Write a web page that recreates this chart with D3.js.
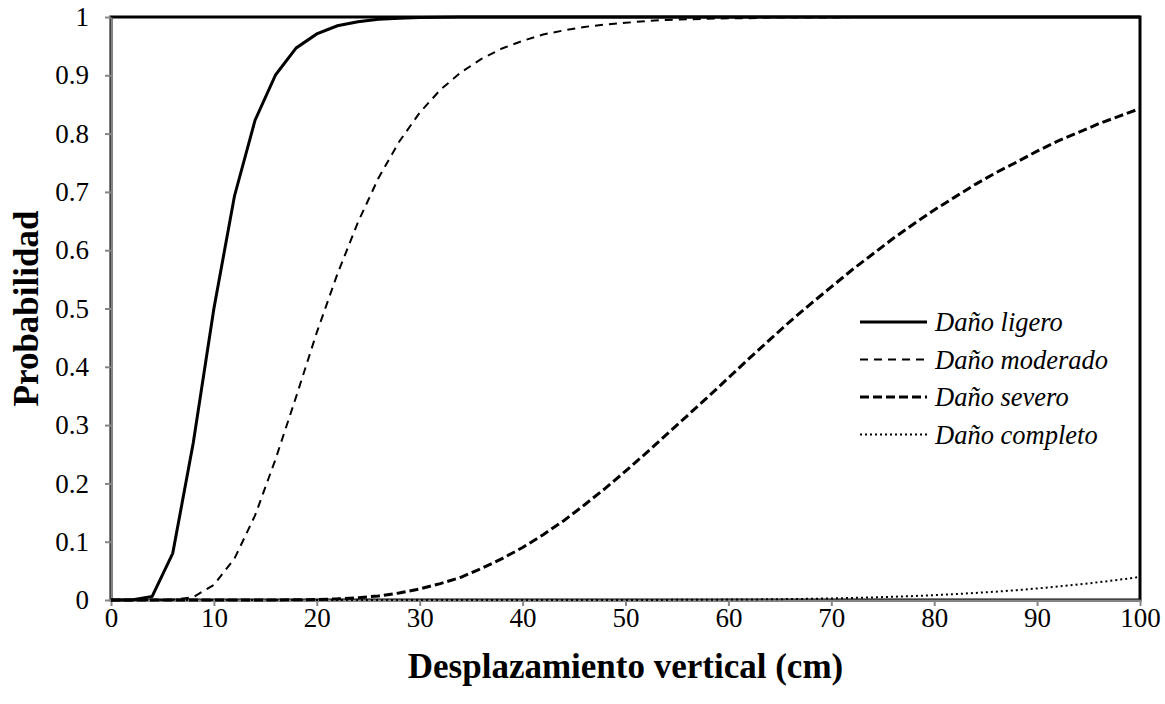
<!DOCTYPE html>
<html>
<head>
<meta charset="utf-8">
<script src="https://cdn.jsdelivr.net/npm/d3@7"></script>
<style>
  body { margin: 0; background: #fff; }
  text { font-family: "Liberation Serif", "Times New Roman", serif; fill: #000; }
  .tick text { font-size: 27px; }
  .axis .domain { stroke: #868686; stroke-width: 2; }
  .axis .tick line { stroke: #868686; stroke-width: 2; }
</style>
</head>
<body>
<svg width="1165" height="704"></svg>
<script>
// desplazamiento vertical (cm), cada 2 cm
var desplazamiento = d3.range(0, 101, 2);

var ligero = [0, 0, 0.006, 0.080, 0.270, 0.500, 0.693, 0.823, 0.901, 0.947,
  0.971, 0.985, 0.992, 0.996, 0.998, 0.999, 0.9995, 1, 1, 1,
  1, 1, 1, 1, 1, 1, 1, 1, 1, 1,
  1, 1, 1, 1, 1, 1, 1, 1, 1, 1,
  1, 1, 1, 1, 1, 1, 1, 1, 1, 1, 1];

var moderado = [0, 0, 0, 0.0005, 0.005, 0.026, 0.071, 0.145, 0.242, 0.349,
  0.459, 0.559, 0.648, 0.724, 0.786, 0.836, 0.875, 0.905, 0.928, 0.946,
  0.959, 0.970, 0.977, 0.983, 0.987, 0.990, 0.993, 0.995, 0.996, 0.997,
  0.998, 0.998, 0.999, 0.999, 0.999, 0.999, 1, 1, 1, 1,
  1, 1, 1, 1, 1, 1, 1, 1, 1, 1, 1];

var severo = [0, 0, 0, 0, 0, 0, 0, 0, 0.0001, 0.0003,
  0.0009, 0.002, 0.004, 0.007, 0.012, 0.019, 0.028, 0.039, 0.054, 0.071,
  0.090, 0.112, 0.136, 0.163, 0.191, 0.221, 0.252, 0.284, 0.316, 0.348,
  0.381, 0.414, 0.446, 0.478, 0.508, 0.537, 0.566, 0.593, 0.620, 0.645,
  0.669, 0.691, 0.713, 0.733, 0.751, 0.770, 0.787, 0.802, 0.817, 0.830, 0.843];

var completo = [0, 0, 0, 0, 0, 0, 0, 0, 0, 0,
  0, 0, 0, 0, 0, 0, 0, 0, 0, 0,
  0, 0, 0, 0, 0, 0.0001, 0.0001, 0.0002, 0.0003, 0.0005,
  0.0007, 0.0009, 0.0012, 0.0016, 0.0021, 0.0027, 0.0035, 0.0044, 0.0055, 0.0068,
  0.0083, 0.0101, 0.0121, 0.0143, 0.0169, 0.0198, 0.0231, 0.0266, 0.0305, 0.0348, 0.0395];

var xTicks = d3.range(0, 101, 10);
var yTicks = d3.range(0, 1.01, 0.1);

var series = [
  {name: "Daño ligero", values: ligero, width: 3, dash: null},
  {name: "Daño moderado", values: moderado, width: 2, dash: "8,6"},
  {name: "Daño severo", values: severo, width: 3, dash: "9,4"},
  {name: "Daño completo", values: completo, width: 2, dash: "2,3"}
];

var svg = d3.select("svg"),
    margin = {top: 17, right: 25, bottom: 104, left: 111},
    width = svg.attr("width") - margin.left - margin.right,
    height = svg.attr("height") - margin.top - margin.bottom,
    g = svg.append("g").attr("transform", "translate(" + margin.left + "," + margin.top + ")");

var x = d3.scaleLinear().domain([0, 100]).range([0, width]),
    y = d3.scaleLinear().domain([0, 1]).range([height, 0]);

// plot area border
g.append("rect")
    .attr("width", width)
    .attr("height", height)
    .attr("fill", "none")
    .attr("stroke", "#000")
    .attr("stroke-width", 3);

// X axis
g.append("g")
    .attr("class", "axis axis--x")
    .attr("transform", "translate(0," + height + ")")
    .call(d3.axisBottom(x).tickValues(xTicks).tickSize(6).tickSizeOuter(0).tickPadding(2))
    .selectAll(".tick text").attr("dy", "0.71em");

// Y axis
g.append("g")
    .attr("class", "axis axis--y")
    .call(d3.axisLeft(y).tickValues(yTicks).tickSize(6).tickSizeOuter(0).tickPadding(16)
      .tickFormat(function(d) { return d3.format(".1~f")(d); }));

var line = d3.line()
    .x(function(d, i) { return x(desplazamiento[i]); })
    .y(function(d) { return y(d); });

// Curves
g.selectAll(".curve")
    .data(series)
    .enter().append("path")
    .attr("class", "curve")
    .attr("fill", "none")
    .attr("stroke", "#000")
    .attr("stroke-width", function(d) { return d.width; })
    .attr("stroke-dasharray", function(d) { return d.dash; })
    .attr("d", function(d) { return line(d.values); });

// Legend
var legend = g.selectAll(".legend")
    .data(series)
    .enter().append("g")
    .attr("class", "legend")
    .attr("transform", function(d, i) { return "translate(" + (860 - margin.left) + "," + (322 - margin.top + i * 37.5) + ")"; });

legend.append("line")
    .attr("x1", 0).attr("x2", 67)
    .attr("stroke", "#000")
    .attr("stroke-width", function(d) { return d.width; })
    .attr("stroke-dasharray", function(d) { return d.dash; });

legend.append("text")
    .attr("x", 75)
    .attr("dy", "0.35em")
    .style("font-size", "26.5px")
    .style("font-style", "italic")
    .text(function(d) { return d.name; });

// Axis titles
svg.append("text")
    .attr("x", margin.left + width / 2)
    .attr("y", 678)
    .attr("text-anchor", "middle")
    .style("font-size", "35px")
    .style("font-weight", "bold")
    .text("Desplazamiento vertical (cm)");

svg.append("text")
    .attr("transform", "translate(38," + (margin.top + height / 2) + ") rotate(-90)")
    .attr("text-anchor", "middle")
    .style("font-size", "35px")
    .style("font-weight", "bold")
    .text("Probabilidad");
</script>
</body>
</html>
